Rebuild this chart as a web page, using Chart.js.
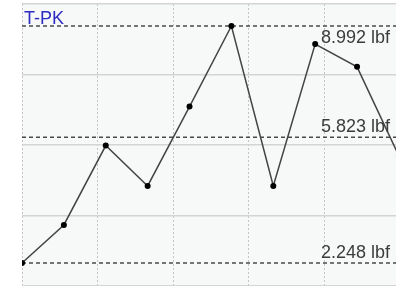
<!DOCTYPE html>
<html>
<head>
<meta charset="utf-8">
<script src="https://cdn.jsdelivr.net/npm/chart.js@4"></script>
<style>
  html, body { margin: 0; padding: 0; background: #fff; }
  #wrap { width: 396px; height: 286px; }
</style>
</head>
<body>
<div id="wrap"><canvas id="tpkChart"></canvas></div>
<script>
// sample index -> peak force (lbf)
let sampleIdx = [0, 1, 2, 3, 4, 5, 6, 7, 8, 9];
let peakLbf = [2.248, 3.33, 5.59, 4.44, 6.70, 8.992, 4.44, 8.48, 7.83, 5.29];

// reference lines
let refValues = [8.992, 5.823, 2.248];
let refLabels = ["8.992 lbf", "5.823 lbf", "2.248 lbf"];
let seriesName = "T-PK";

let yMin = 1.593, yMax = 9.618;
let xMin = 0, xMax = 8.93;
let xGridStep = 1.803;

let refSets = refValues.map(function(v){
  return {
    data: [{x: xMin, y: v}, {x: 20, y: v}],
    borderColor: "#4a4a4a",
    borderWidth: 1.5,
    borderDash: [4, 3],
    pointRadius: 0,
    order: 2
  };
});

let plotBg = {
  id: "plotBg",
  beforeDraw(chart){
    let c = chart.ctx, a = chart.chartArea;
    c.save();
    c.fillStyle = "#f7f8f8";
    c.fillRect(a.left, a.top, a.right - a.left, a.bottom - a.top);
    c.restore();
  },
  afterDraw(chart){
    let c = chart.ctx, a = chart.chartArea, ys = chart.scales.y;
    c.save();
    c.font = "18px 'Liberation Sans', Arial, sans-serif";
    c.textBaseline = "alphabetic";
    c.textAlign = "left";
    c.fillStyle = "#2c2cc4";
    c.fillText(seriesName, a.left + 2, a.top + 20);
    c.fillStyle = "#3c3c3c";
    for(let i=0;i<refValues.length;i++){
      let py = ys.getPixelForValue(refValues[i]);
      let ty = (i == 0) ? py + 17 : py - 5;
      c.fillText(refLabels[i], 321, ty);
    }
    c.restore();
  }
};

new Chart(document.getElementById("tpkChart"), {
  type: "line",
  data: {
    datasets: [
      {
        data: sampleIdx.map(function(x, i){ return {x: x, y: peakLbf[i]}; }),
        borderColor: "#444",
        borderWidth: 1.5,
        pointRadius: 3,
        pointBackgroundColor: "#000",
        pointBorderColor: "#000",
        pointBorderWidth: 0,
        tension: 0,
        order: 1
      }
    ].concat(refSets)
  },
  options: {
    responsive: true,
    maintainAspectRatio: false,
    animation: false,
    layout: { autoPadding: false, padding: { left: 22, top: 4, right: 0, bottom: 0 } },
    plugins: { legend: { display: false }, tooltip: { enabled: false } },
    scales: {
      x: {
        type: "linear",
        min: xMin, max: xMax,
        afterBuildTicks(axis){
          let t = [];
          for(let v = xMin; v <= xMax; v += xGridStep) t.push({value: v});
          axis.ticks = t;
        },
        ticks: { display: false, padding: 0 },
        border: { display: false, dash: [2, 2] },
        grid: { color: "#c4c4c4", lineWidth: 1, drawTicks: false, tickLength: 0 }
      },
      y: {
        min: yMin, max: yMax,
        afterBuildTicks(axis){
          let t = [], step = (yMax - yMin) / 4;
          for(let i=0;i<=4;i++) t.push({value: yMin + i*step});
          axis.ticks = t;
        },
        ticks: { display: false, padding: 0 },
        border: { display: false },
        grid: { color: "#d4d4d4", lineWidth: 1.5, drawTicks: false, tickLength: 0 }
      }
    }
  },
  plugins: [plotBg]
});
</script>
</body>
</html>
